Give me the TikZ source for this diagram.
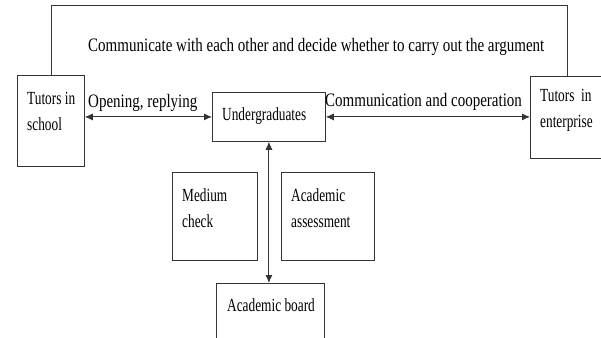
\documentclass[tikz,border=0pt]{standalone}
\usepackage{fontspec}
\setmainfont[FakeStretch=0.72]{Liberation Serif}
\newfontfamily\widefont[FakeStretch=0.79]{Liberation Serif}
\usetikzlibrary{arrows.meta}

\tikzset{
  box/.style={draw=black!80, line width=0.8pt, anchor=north west, inner sep=0pt},
  txt/.style={anchor=base west, inner sep=0pt, align=left, font=\fontsize{18.5}{26}\selectfont},
  lbl/.style={txt, font=\widefont\fontsize{19}{26}\selectfont},
  link/.style={draw=black!80, line width=0.9pt, {Latex[length=8pt,width=7pt]}-{Latex[length=8pt,width=7pt]}},
  line/.style={draw=black!80, line width=0.8pt},
}

\begin{document}
\begin{tikzpicture}[x=1pt,y=-1pt]
\useasboundingbox (0,0) rectangle (601,337);
\clip (0,0) rectangle (601,337);
% Tutors on both sides
\node[box, minimum width=67pt, minimum height=91pt] (school) at (17,75) {};
\node[txt] (schooltxt) at (27,130) {Tutors in\\school};
\node[box, minimum width=80pt, minimum height=82pt] (ent) at (530,76) {};
\node[txt] (enttxt) at (540,127) {Tutors~~in\\enterprise};
% Undergraduates
\node[box, minimum width=113pt, minimum height=49pt] (ug) at (212,92) {};
\node[txt] (ugtxt) at (222,120) {Undergraduates};
% Medium check and assessment
\node[box, minimum width=85pt, minimum height=88pt] (check) at (172,172) {};
\node[txt] (checktxt) at (182,227) {Medium\\check};
\node[box, minimum width=93pt, minimum height=88pt] (assess) at (281,172) {};
\node[txt] (assesstxt) at (291,227) {Academic\\assessment};
% Academic board
\node[box, minimum width=108pt, minimum height=80pt] (board) at (216,283) {};
\node[txt] (boardtxt) at (227,311) {Academic board};
% Top loop between tutors
\coordinate (tl) at (51,5);
\coordinate (tr) at (567,5);
\draw[line] (school.north -| tl) -- (tl) -- (tr) -- (tr |- ent.north);
\node[lbl] (argue) at (88,52) {Communicate with each other and decide whether to carry out the argument};
% Connecting arrows
\draw[link] (school.east |- ug.west) -- (ug.west);
\node[lbl] (open) at (88,107) {Opening, replying};
\draw[link] (ug.east) -- (ug.east -| ent.west);
\node[lbl] (coop) at (325,106) {Communication and cooperation};
\draw[link] (ug.south) -- (ug.south |- board.north);
\end{tikzpicture}
\end{document}
